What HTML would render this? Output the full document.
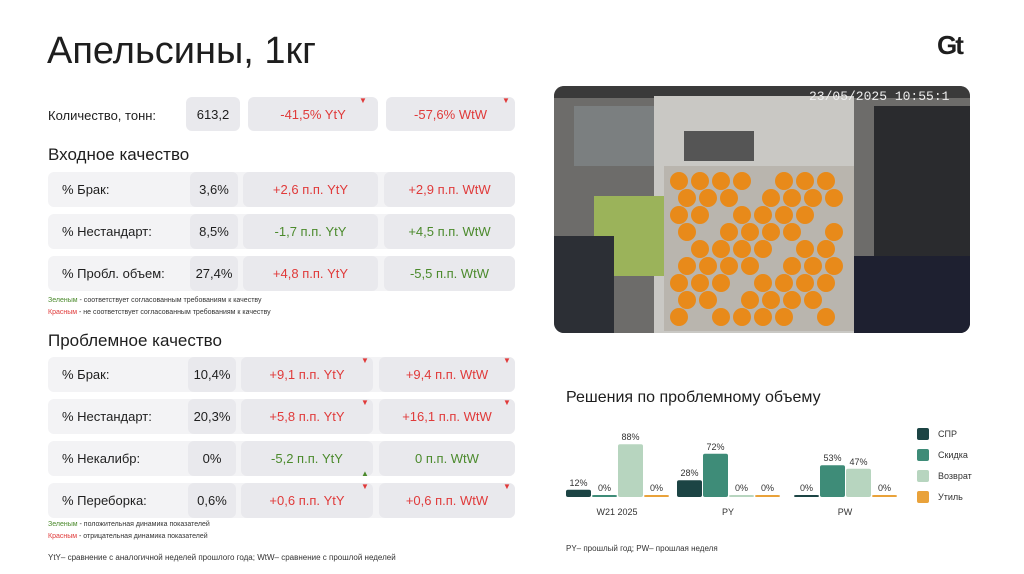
<!DOCTYPE html>
<html><head><meta charset="utf-8"><style>
body{margin:0;width:1024px;height:574px;background:#fff;font-family:"Liberation Sans",sans-serif;position:relative;overflow:hidden;color:#1e1e1e}
.a{position:absolute}
.bg{position:absolute;background:#f3f3f5;border-radius:6px}
.c{position:absolute;background:#e9e9ed;border-radius:6px;display:flex;align-items:center;justify-content:center;font-size:13px}
.l{position:absolute;font-size:13px}
.r{color:#e03a3a}.g{color:#4b8a2c}
.tri{position:absolute;font-size:8px;line-height:8px}
.note{position:absolute;font-size:7px;color:#333}
</style></head><body>
<div class="a" style="left:47px;top:30px;font-size:38px">Апельсины, 1кг</div>
<div class="a" style="left:937px;top:30px;font-size:26px;font-weight:bold;letter-spacing:-2px">Gt</div>

<div class="l" style="left:48px;top:108px">Количество, тонн:</div>
<div class="c" style="left:186px;top:97px;width:54px;height:34px">613,2</div>
<div class="c r" style="left:248px;top:97px;width:130px;height:34px">-41,5% YtY</div>
<div class="c r" style="left:386px;top:97px;width:129px;height:34px">-57,6% WtW</div>
<div class="tri r" style="left:359px;top:97px">▼</div>
<div class="tri r" style="left:502px;top:97px">▼</div>

<div class="a" style="left:48px;top:145px;font-size:17px">Входное качество</div>
<div id="rows"></div>
<div class="note" style="left:48px;top:297px"><span class="g">Зеленым</span> - соответствует согласованным требованиям к качеству</div>
<div class="note" style="left:48px;top:309px"><span class="r">Красным</span> - не соответствует согласованным требованиям к качеству</div>

<div class="a" style="left:48px;top:331px;font-size:17px">Проблемное качество</div>
<div class="note" style="left:48px;top:521px"><span class="g">Зеленым</span> - положительная динамика показателей</div>
<div class="note" style="left:48px;top:533px"><span class="r">Красным</span> - отрицательная динамика показателей</div>
<div class="note" style="left:48px;top:553px;font-size:8px">YtY– сравнение с аналогичной неделей прошлого года; WtW– сравнение с прошлой неделей</div>

<svg class="a" style="left:554px;top:86px" width="416" height="247">
<defs><clipPath id="cp"><rect width="416" height="247" rx="10"/></clipPath></defs>
<g clip-path="url(#cp)">
<rect width="416" height="247" fill="#6d6c6a"/>
<rect x="0" y="0" width="416" height="12" fill="#3a3a3a"/>
<rect x="100" y="10" width="200" height="237" fill="#c9c8c4"/>
<rect x="110" y="80" width="190" height="165" fill="#b9b5ae"/>
<rect x="20" y="20" width="80" height="60" fill="#7b7f80"/>
<rect x="130" y="45" width="70" height="30" fill="#555"/>
<rect x="40" y="110" width="70" height="80" fill="#9bb35a"/>
<rect x="0" y="150" width="60" height="97" fill="#2c2f35"/>
<rect x="320" y="20" width="96" height="227" fill="#2a2b2e"/>
<rect x="300" y="170" width="116" height="77" fill="#1e2030"/>
<g fill="#e88a1a" id="or"></g>
<text x="255" y="14" fill="#eee" font-size="13" font-family="Liberation Mono">23/05/2025 10:55:1</text>
</g></svg>

<div class="a" style="left:566px;top:389px;font-size:16px">Решения по проблемному объему</div>
<svg class="a" id="chart" style="left:550px;top:420px" width="440" height="100"></svg>
<div class="note" style="left:566px;top:544px;font-size:8px">PY– прошлый год;  PW– прошлая неделя</div>

<script>
const groups=["W21 2025","PY","PW"];
const seriesNames=["СПР","Скидка","Возврат","Утиль"];
const seriesColors=["#1c4444","#3e8c78","#b7d5bf","#e9a23a"];
const valsSPR=[12,28,0];
const valsSkidka=[0,72,53];
const valsVozvrat=[88,0,47];
const valsUtil=[0,0,0];
const series=[valsSPR,valsSkidka,valsVozvrat,valsUtil];

const inputLabels=["% Брак:","% Нестандарт:","% Пробл. объем:"];
const inputValues=["3,6%","8,5%","27,4%"];
const inputYty=["+2,6 п.п. YtY","-1,7 п.п. YtY","+4,8 п.п. YtY"];
const inputWtw=["+2,9 п.п. WtW","+4,5 п.п. WtW","-5,5 п.п. WtW"];
const inputYtyCol=["r","g","r"],inputWtwCol=["r","g","g"];
const probLabels=["% Брак:","% Нестандарт:","% Некалибр:","% Переборка:"];
const probValues=["10,4%","20,3%","0%","0,6%"];
const probYty=["+9,1 п.п. YtY","+5,8 п.п. YtY","-5,2 п.п. YtY","+0,6 п.п. YtY"];
const probWtw=["+9,4 п.п. WtW","+16,1 п.п. WtW","0 п.п. WtW","+0,6 п.п. WtW"];
const probYtyCol=["r","r","g","r"],probWtwCol=["r","r","g","r"];

const root=document.getElementById('rows');
function mk(cls,x,y,w,h,txt){const d=document.createElement('div');d.className=cls;d.style.cssText=`left:${x}px;top:${y}px;`+(w?`width:${w}px;height:${h}px;`:'');if(txt!=null)d.textContent=txt;root.appendChild(d);return d;}
function block(top,labels,vals,yty,wtw,yc,wc,prefix,cx){
 labels.forEach((lab,i)=>{
  const y=top+i*42;
  const bg=mk('bg',48,y,467,35);
  
  
  const l=mk('l',62,y+10,null,null,lab);
  
  
  const v=mk('c',cx[0],y,cx[1],35,vals[i]);
  
  
  const a=mk('c '+yc[i],cx[2],y,cx[3],35,yty[i]);
  
  
  const b=mk('c '+wc[i],cx[4],y,515-cx[4],35,wtw[i]);
  
  
 });
}
block(172,inputLabels,inputValues,inputYty,inputWtw,inputYtyCol,inputWtwCol,'input',[190,48,243,135,384]);
block(357,probLabels,probValues,probYty,probWtw,probYtyCol,probWtwCol,'problem',[188,48,241,132,379]);
[[361,357,'▼','r'],[503,357,'▼','r'],[361,399,'▼','r'],[503,399,'▼','r'],[361,470,'▲','g'],[361,483,'▼','r'],[503,483,'▼','r']].forEach((t,i)=>{
 const d=mk('tri '+t[3],t[0],t[1],null,null,t[2]);
 
 
});

const og=document.getElementById('or');
for(let r=0;r<9;r++)for(let c=0;c<8;c++){if((r+c)%5==4)continue;const e=document.createElementNS('http://www.w3.org/2000/svg','circle');e.setAttribute('cx',125+c*21+(r%2)*8);e.setAttribute('cy',95+r*17);e.setAttribute('r',9);og.appendChild(e);}

const svg=document.getElementById('chart');const NS='http://www.w3.org/2000/svg';
const baseY=77,scale=0.6,barW=25,groupX=[16,127,244];
const xPos=(g,s)=>groupX[g]+s*26;
const yPos=v=>baseY-Math.max(v*scale,2);
function el(t,at){const e=document.createElementNS(NS,t);for(const k in at)e.setAttribute(k,at[k]);svg.appendChild(e);return e;}
groups.forEach((g,gi)=>{
 series.forEach((arr,si)=>{
  const v=arr[gi];
  const r=el('rect',{x:xPos(gi,si),y:yPos(v),width:barW,height:baseY-yPos(v),rx:2,fill:seriesColors[si]});
  
  
  const t=el('text',{x:xPos(gi,si)+barW/2,y:yPos(v)-4,'text-anchor':'middle','font-size':9,fill:'#333'});
  t.textContent=v+'%';
  
  
 });
 const c=el('text',{x:groupX[gi]+51,y:95,'text-anchor':'middle','font-size':9,fill:'#333'});
 c.textContent=g;
 
 
});
seriesNames.forEach((n,i)=>{
 const r=el('rect',{x:367,y:8+i*21,width:12,height:12,rx:2,fill:seriesColors[i]});
 
 
 const t=el('text',{x:388,y:17+i*21,'font-size':9,fill:'#333'});
 t.textContent=n;
 
 
});
</script>
</body></html>
